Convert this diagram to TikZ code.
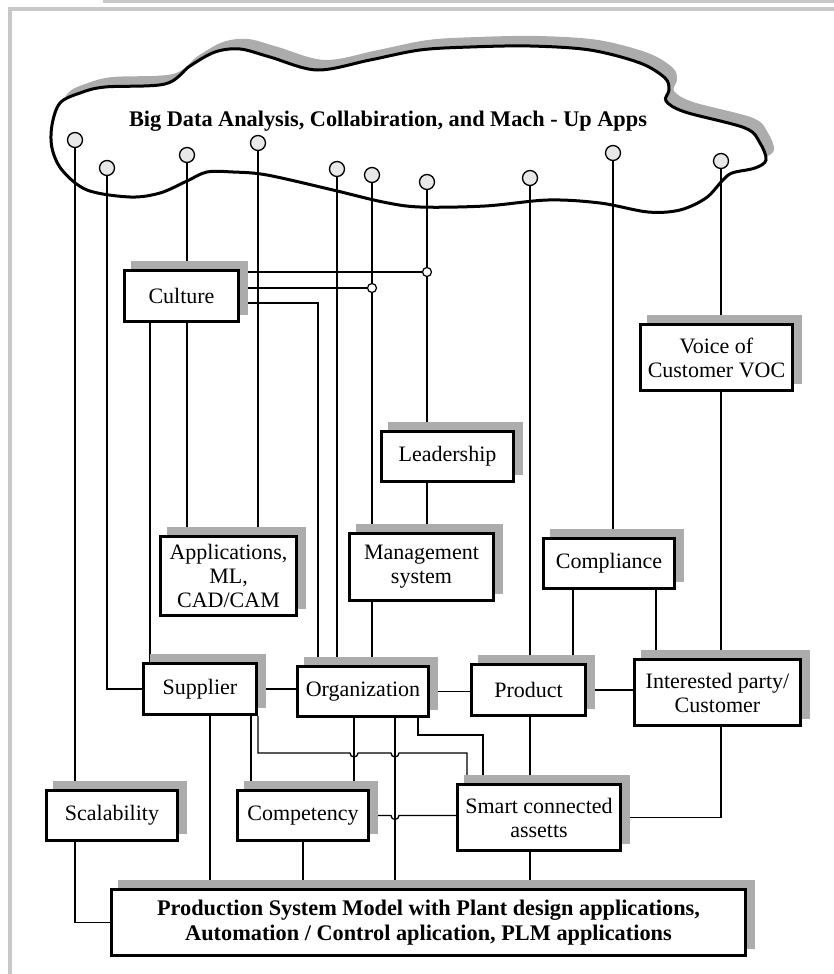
\documentclass[tikz,border=0pt]{standalone}
\usepackage{fontspec}
\setmainfont{Liberation Serif}
\usetikzlibrary{shadows,backgrounds}
\definecolor{shadowgray}{RGB}{172,172,172}
\definecolor{framegray}{RGB}{200,200,200}
\definecolor{pinfill}{RGB}{232,232,232}
\newcommand\cloudline{plot[smooth cycle,tension=0.55] coordinates {(52,125) (60,103) (80,93) (105,87) (165,84) (190,66) (215,52) (240,49) (270,57) (317,70) (370,60) (420,50) (470,47) (530,46) (590,50) (640,63) (665,78) (669,90) (666,101) (685,112) (745,128) (760,143) (766,160) (755,168) (732,173) (722,181) (706,198) (680,210) (648,212) (600,203) (548,200) (485,206) (420,207) (383,202) (333,190) (267,175) (233,172) (207,172) (187,181) (160,193) (130,197) (87,190) (62,170) (52,148)}}
\begin{document}
\begin{tikzpicture}[x=1pt,y=-1pt,
blk/.style={draw,line width=3pt,fill=white,align=center,inner sep=2pt,font=\fontsize{22}{24}\selectfont,
  drop shadow={shadow xshift=8pt,shadow yshift=8pt,fill=shadowgray,draw=shadowgray,opacity=1}},
plug/.style={circle,draw,line width=1.3pt,fill=pinfill,minimum size=15pt,inner sep=0pt},
jct/.style={circle,draw,line width=1.2pt,fill=white,minimum size=9pt,inner sep=0pt},
wire/.style={line width=1.3pt}]
\useasboundingbox (0,0) rectangle (834,974);
\node[font=\bfseries\fontsize{22.3}{26}\selectfont] (title) at (388,121) {Big Data Analysis, Collabiration, and Mach - Up Apps};
\node[plug] (pin1) at (75,140) {};
\node[plug] (pin2) at (107,168) {};
\node[plug] (pin3) at (187,155) {};
\node[plug] (pin4) at (258,143) {};
\node[plug] (pin5) at (337,169) {};
\node[plug] (pin6) at (372,175) {};
\node[plug] (pin7) at (427,182) {};
\node[plug] (pin8) at (530,178) {};
\node[plug] (pin9) at (613,153) {};
\node[plug] (pin10) at (721,161) {};
\node[jct] (jA) at (372,288) {};
\node[jct] (jB) at (427,272) {};
\node[blk,minimum width=114pt,minimum height=51pt] (culture) at (181.5,296) {Culture};
\node[blk,minimum width=152pt,minimum height=66pt] (voice) at (716.5,357.5) {Voice of\\Customer VOC};
\node[blk,minimum width=132pt,minimum height=50pt] (leadership) at (447.5,456.5) {Leadership};
\node[blk,minimum width=136pt,minimum height=79pt] (apps) at (228.5,576) {Applications,\\ML,\\CAD/CAM};
\node[blk,minimum width=144pt,minimum height=67pt] (mgmt) at (421.5,567) {Management\\system};
\node[blk,minimum width=131pt,minimum height=50pt] (compliance) at (609,563.5) {Compliance};
\node[blk,minimum width=113pt,minimum height=51pt] (supplier) at (200,689) {Supplier};
\node[blk,minimum width=131pt,minimum height=50pt] (org) at (363,691.5) {Organization};
\node[blk,minimum width=114pt,minimum height=51pt] (product) at (528.5,690) {Product};
\node[blk,minimum width=166pt,minimum height=66pt] (party) at (717.5,692.5) {Interested party/\\Customer};
\node[blk,minimum width=131pt,minimum height=50pt] (scal) at (112,815.5) {Scalability};
\node[blk,minimum width=131pt,minimum height=50pt] (compet) at (303,815.5) {Competency};
\node[blk,minimum width=163pt,minimum height=66pt] (smart) at (539,817.5) {Smart connected\\assetts};
\node[blk,minimum width=634pt,minimum height=66pt,font=\bfseries\fontsize{22.3}{25}\selectfont] (psm) at (428.5,922.5) {Production System Model with Plant design applications,\\Automation / Control aplication, PLM applications};
\begin{scope}[on background layer]
\draw[framegray,line width=4pt] (834,9) -- (10,9) -- (10,974);
\draw[framegray,line width=3pt] (103,1.5) -- (834,1.5);
\fill[shadowgray,shift={(8,-10)}] \cloudline;
\draw[line width=3pt,fill=white] \cloudline;
\begin{scope}[wire]
\draw (pin1) -- (pin1 |- scal.north);
\draw (pin1 |- scal.south) |- (psm.west);
\draw (pin2) |- (supplier.west);
\draw (pin3) -- (pin3 |- culture.north);
\draw (pin3 |- culture.south) -- (pin3 |- apps.north);
\draw (pin4) -- (pin4 |- apps.north);
\draw (pin5) -- (pin5 |- org.north);
\draw (pin6) -- (pin6 |- mgmt.north);
\draw (pin6 |- mgmt.south) -- (pin6 |- org.north);
\draw (pin7) -- (pin7 |- leadership.north);
\draw (pin7 |- leadership.south) -- (pin7 |- mgmt.north);
\draw (pin8) -- (pin8 |- product.north);
\draw (pin8 |- product.south) -- (pin8 |- smart.north);
\draw (pin8 |- smart.south) -- (pin8 |- psm.north);
\draw (pin9) -- (pin9 |- compliance.north);
\draw (pin10) -- (pin10 |- voice.north);
\draw (pin10 |- voice.south) -- (pin10 |- party.north);
\draw (pin10 |- party.south) |- (smart.east);
\draw (culture.east |- jB) -- (jB);
\draw (culture.east |- jA) -- (jA);
\draw ([yshift=-7pt]culture.east) -| ([xshift=-45pt]org.north);
\draw ([xshift=-31.5pt]culture.south) -- ([xshift=-31.5pt]culture.south |- supplier.north);
\draw ([xshift=-36pt]compliance.south) -- ([xshift=-36pt]compliance.south |- product.north);
\draw ([xshift=47pt]compliance.south) -- ([xshift=47pt]compliance.south |- party.north);
\draw (supplier.east) -- (supplier.east -| org.west);
\draw (org.east) -- (org.east -| product.west);
\draw (product.east) -- (product.east -| party.west);
\draw ([xshift=10pt]supplier.south) -- ([xshift=10pt]supplier.south |- psm.north);
\draw ([xshift=51pt]supplier.south) -- ([xshift=51pt]supplier.south |- compet.north);
\draw (supplier.south east) -- ++(0,37) -- ++(92,0) arc[start angle=180,end angle=360,radius=4pt] -- ++(33,0) arc[start angle=180,end angle=360,radius=4pt] -| ([xshift=-72pt]smart.north);
\draw ([xshift=-9pt]org.south) -- ([xshift=-9pt]org.south |- compet.north);
\draw ([xshift=32pt]org.south) -- ([xshift=32pt]org.south |- psm.north);
\draw ([xshift=55pt]org.south) -- ++(0,17) -| ([xshift=-56pt]smart.north);
\draw (compet.east) -- ++(21,0) arc[start angle=180,end angle=360,radius=4pt] -- (compet.east -| smart.west);
\draw (compet.south) -- (compet.south |- psm.north);
\end{scope}
\end{scope}
\end{tikzpicture}
\end{document}
